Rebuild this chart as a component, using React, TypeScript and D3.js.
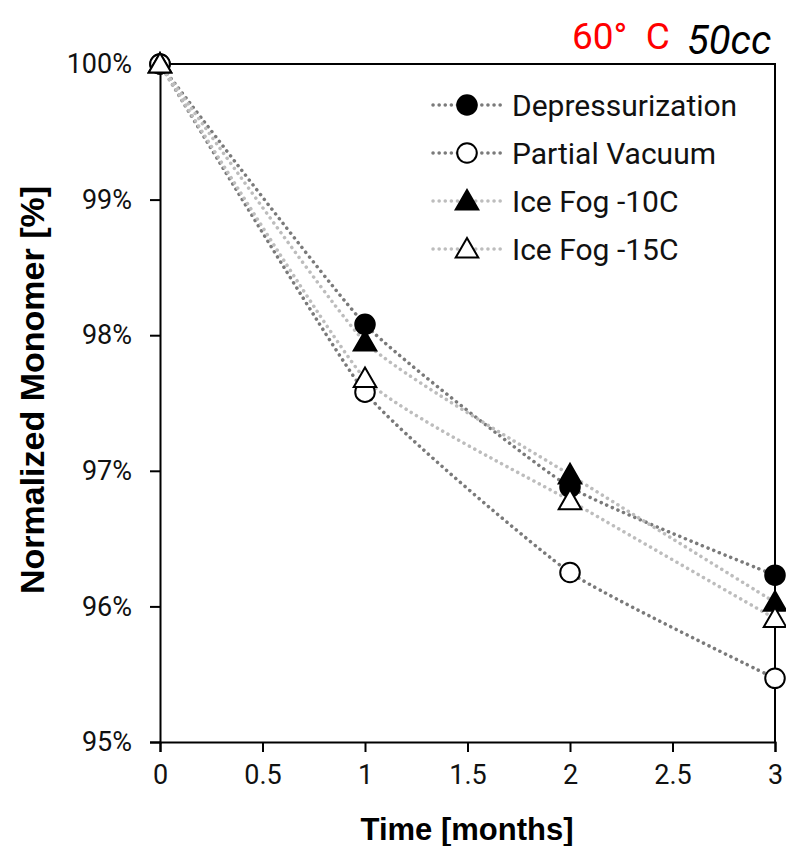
import * as d3 from 'd3';
import { useEffect, useRef } from 'react';

// Chart data
const months = [0, 1, 2, 3];
const seriesNames = ['Depressurization', 'Partial Vacuum', 'Ice Fog -10C', 'Ice Fog -15C'];
const depressurization = [100, 98.08, 96.88, 96.23];
const partialVacuum = [100, 97.58, 96.25, 95.47];
const iceFog10 = [100, 97.95, 96.97, 96.03];
const iceFog15 = [100, 97.68, 96.78, 95.91];
const xTicks = [0, 0.5, 1, 1.5, 2, 2.5, 3];
const yTicks = [95, 96, 97, 98, 99, 100];

export default function App() {
  const chartRef = useRef(null);

  const width = 786;
  const height = 846;
  const margin = { top: 64, left: 160, right: 11, bottom: 104 };

  useEffect(() => {
    const svg = d3.select(chartRef.current);
    svg.selectAll('*').remove();

    const xScale = d3
      .scaleLinear()
      .domain([0, 3])
      .range([margin.left, width - margin.right]);
    const yScale = d3
      .scaleLinear()
      .domain([95, 100])
      .range([height - margin.bottom, margin.top]);

    const font = 'Roboto, "Liberation Sans", Arial, sans-serif';
    const boldFont = '"Liberation Sans", Arial, sans-serif';

    // Frame on top and right
    svg
      .append('path')
      .attr(
        'd',
        `M${xScale(0)},${yScale(100)}H${xScale(3)}V${yScale(95)}`,
      )
      .attr('fill', 'none')
      .attr('stroke', 'black')
      .attr('stroke-width', 2);

    // Axes
    const yAxis = d3
      .axisLeft(yScale)
      .tickValues(yTicks)
      .tickSize(10)
      .tickPadding(18)
      .tickFormat((d) => `${d}%`);
    const xAxis = d3
      .axisBottom(xScale)
      .tickValues(xTicks)
      .tickSize(10)
      .tickPadding(13)
      .tickFormat((d) => `${d}`);

    const gy = svg
      .append('g')
      .attr('transform', `translate(${xScale(0)},0)`)
      .call(yAxis);
    const gx = svg
      .append('g')
      .attr('transform', `translate(0,${yScale(95)})`)
      .call(xAxis);

    [gx, gy].forEach((g) => {
      g.select('.domain').attr('stroke-width', 2).attr('stroke', 'black');
      g.selectAll('.tick line').attr('stroke-width', 2).attr('stroke', 'black');
      g.selectAll('.tick text')
        .attr('fill', '#111')
        .style('font-family', font)
        .style('font-size', '27px');
    });
    gy.select('.tick:last-of-type line').remove();

    // Series
    const series = [
      { name: seriesNames[0], values: depressurization, color: '#7a7a7a', marker: 'circle', fill: 'black' },
      { name: seriesNames[1], values: partialVacuum, color: '#7a7a7a', marker: 'circle', fill: 'white' },
      { name: seriesNames[2], values: iceFog10, color: '#bdbdbd', marker: 'triangle', fill: 'black' },
      { name: seriesNames[3], values: iceFog15, color: '#bdbdbd', marker: 'triangle', fill: 'white' },
    ];

    const line = d3
      .line()
      .x((d) => xScale(d[0]))
      .y((d) => yScale(d[1]))
      .curve(d3.curveCardinal.tension(0.55));

    const circleSym = d3.symbol().type(d3.symbolCircle).size(300);
    const triSym = d3.symbol().type(d3.symbolTriangle).size(220);

    series.forEach((s) => {
      svg
        .append('path')
        .datum(months.map((m, i) => [m, s.values[i]]))
        .attr('d', line)
        .attr('fill', 'none')
        .attr('stroke', s.color)
        .attr('stroke-width', 3.5)
        .attr('stroke-linecap', 'round')
        .attr('stroke-dasharray', '0.1 6');
    });

    series.forEach((s) => {
      svg
        .selectAll(null)
        .data(months.map((m, i) => [m, s.values[i]]))
        .enter()
        .append('path')
        .attr('transform', (d) => `translate(${xScale(d[0])},${yScale(d[1]) + (s.marker === 'triangle' ? 2 : 0)})`)
        .attr('d', s.marker === 'circle' ? circleSym() : triSym())
        .attr('fill', s.fill)
        .attr('stroke', 'black')
        .attr('stroke-width', 2);
    });

    // Legend
    const legend = svg.append('g').attr('transform', 'translate(433,105)');
    series.forEach((s, i) => {
      const row = legend.append('g').attr('transform', `translate(0,${i * 48})`);
      row
        .append('line')
        .attr('x1', 0)
        .attr('x2', 68)
        .attr('stroke', s.color)
        .attr('stroke-width', 3.5)
        .attr('stroke-linecap', 'round')
        .attr('stroke-dasharray', '0.1 6');
      row
        .append('path')
        .attr('transform', `translate(34,${s.marker === 'triangle' ? 2 : 0})`)
        .attr('d', s.marker === 'circle' ? circleSym() : triSym())
        .attr('fill', s.fill)
        .attr('stroke', 'black')
        .attr('stroke-width', 2);
      row
        .append('text')
        .text(s.name)
        .attr('x', 79)
        .attr('y', 11)
        .attr('fill', '#111')
        .style('font-family', font)
        .style('font-size', '30px');
    });

    // Axis titles
    svg
      .append('text')
      .text('Time [months]')
      .attr('x', 467)
      .attr('y', 840)
      .attr('text-anchor', 'middle')
      .style('font-family', boldFont)
      .style('font-weight', 'bold')
      .style('font-size', '31px');
    svg
      .append('text')
      .text('Normalized Monomer [%]')
      .attr('transform', 'translate(44,390) rotate(-90)')
      .attr('text-anchor', 'middle')
      .style('font-family', boldFont)
      .style('font-weight', 'bold')
      .style('font-size', '34px');

    // Title
    svg
      .append('text')
      .text('60°\u00a0\u00a0C')
      .attr('x', 572)
      .attr('y', 49)
      .attr('fill', '#ff0000')
      .style('font-family', font)
      .style('font-size', '37px');
    svg
      .append('text')
      .text('50cc')
      .attr('x', 687)
      .attr('y', 54)
      .attr('fill', 'black')
      .style('font-family', font)
      .style('font-style', 'italic')
      .style('font-size', '40px');
  }, []);

  return (
    <svg
      width={width}
      height={height}
      ref={chartRef}
      style={{ position: 'absolute', left: 0, top: 0, background: 'white' }}
    />
  );
}
